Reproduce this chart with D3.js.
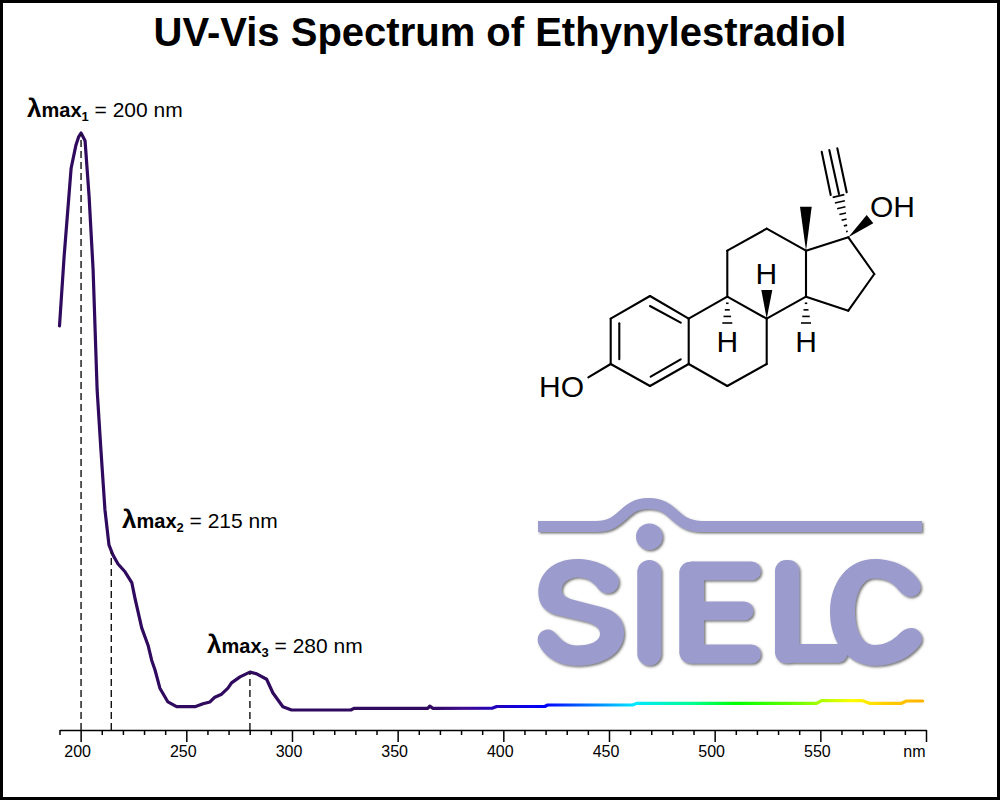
<!DOCTYPE html>
<html><head><meta charset="utf-8">
<script src="https://cdn.jsdelivr.net/npm/d3@7"></script>
<style>html,body{margin:0;padding:0;background:#fff}svg{display:block}text{font-family:"Liberation Sans",Arial,sans-serif;fill:#000}</style>
</head><body><svg id="c" width="1000" height="800"></svg>
<script>
const titleText = "UV-Vis Spectrum of Ethynylestradiol";
const wavelengths = [190,192.2,195.5,197.8,199,200.2,202.1,204,205.9,207.8,209.6,211.5,213.4,215.3,217.7,221,224.2,225.7,228.9,231.9,233.6,235.2,237.5,241.3,245.4,254.1,257.9,261.2,263.5,266.7,269.7,271.4,275.4,280.1,283.3,288,291,295.7,299.8,327.9,329.3,364.3,365.2,366.6,395,396.9,419.6,421,461.2,463.1,548.2,550.6,570,573.3,588.4,590.8,598.4];
const absorbance = [67.7,79.4,94.1,98,99.3,100,98.7,89.4,77.1,57,46.9,36.9,31,29.3,27.8,26.5,24.7,22.1,17.1,14.2,11.7,10.05,7,4.7,3.9,3.9,4.4,4.7,5.5,6,7,7.9,8.9,9.7,9.4,8.5,6.2,3.9,3.35,3.35,3.63,3.63,4,3.63,3.68,3.94,3.94,4.19,4.19,4.46,4.46,4.91,4.91,4.47,4.47,4.86,4.86];
const axisTicks = d3.range(190,601,10);
const tickLabelled = [200,250,300,350,400,450,500,550];
const peakNames = ["1","2","3"];
const peakReadings = [200,215,280];
const peakDrops = [200.2,214.5,280.1];
const peakLabelX = [27,122,207];
const peakLabelY = [117,528,653];
const colorNm = [190,365,382,397,420,440,462,490,510,540,565,580,600];
const colorHex = ["#2f0a5e","#2f0a5e","#3f0a90","#2000c0","#0000ff","#0070ff","#00e8ff","#00ff90","#00ff00","#70ff00","#ffff00","#ffd000","#ffb000"];

const svg = d3.select("#c");
const x = d3.scaleLinear().domain([190,600]).range([59.5,926]);
const y = d3.scaleLinear().domain([0,100]).range([730,133]);

svg.append("rect").attr("width",1000).attr("height",800).attr("fill","#fff");
svg.append("text").attr("x",500).attr("y",46).attr("text-anchor","middle")
  .attr("font-size",40).attr("font-weight","bold").text(titleText);

// gradient
const grad = svg.append("defs").append("linearGradient").attr("id","spec")
  .attr("gradientUnits","userSpaceOnUse").attr("x1",x(190)).attr("x2",x(600)).attr("y1",0).attr("y2",0);
colorNm.forEach((n,i)=>grad.append("stop").attr("offset",(n-190)/410).attr("stop-color",colorHex[i]));

const filt = svg.select("defs").append("filter").attr("id","shadow").attr("filterUnits","userSpaceOnUse")
  .attr("x",520).attr("y",480).attr("width",430).attr("height",210);
filt.append("feDropShadow").attr("dx",1.5).attr("dy",1.5).attr("stdDeviation",0.8).attr("flood-color","#555").attr("flood-opacity",0.8);

// molecule (own pixel geometry, decoration)
const mol = svg.append("g").attr("stroke","#000").attr("stroke-width",2.1).attr("fill","none").attr("stroke-linecap","round");
const bonds = [
 [650,296,610.7,318.7],[610.7,318.7,610.7,364],[610.7,364,650,386],[650,386,688.7,364],[688.7,364,688.7,318.7],[688.7,318.7,650,296],
 [650,306,680.7,322.7],[619.3,323.3,619.3,359.3],[650.7,376.7,680.7,359.3],
 [688.7,318.7,727.3,296.7],[727.3,296.7,766.7,318.7],[766.7,318.7,766.7,364],[766.7,364,727.3,386],[727.3,386,688.7,364],
 [727.3,296.7,727.3,250.7],[727.3,250.7,766.7,228.7],[766.7,228.7,806,250.7],[806,250.7,806,296.7],[806,296.7,766.7,318.7],
 [806,250.7,848.3,237.3],[848.3,237.3,874.3,274],[874.3,274,848.3,310.7],[848.3,310.7,806,296.7],
 [610.7,364,588.3,377.3],
 [821.7,151.7,830.7,195],[829.3,150,839,194],[837.3,148.3,846.7,192.3]];
mol.selectAll("line.b").data(bonds).join("line").attr("class","b")
  .attr("x1",d=>d[0]).attr("y1",d=>d[1]).attr("x2",d=>d[2]).attr("y2",d=>d[3]);
const wedges = [[806,250.7,800,206.7,811.7,206.7],[848.3,237.3,866.7,215,873.3,223.3],[766.7,318.7,761.3,290,772.3,290]];
svg.append("g").selectAll("path").data(wedges).join("path").attr("fill","#000")
  .attr("d",d=>`M${d[0]},${d[1]}L${d[2]},${d[3]}L${d[4]},${d[5]}Z`);
const hashes = [[727.3,296.7,727.3,323,10],[806,296.7,806,323,10],[848.3,237.3,838.5,196,12]];
const hg = svg.append("g").attr("stroke","#000").attr("stroke-width",1.6);
hashes.forEach(h=>{
  const n = h[4]===12?7:4;
  d3.range(1,n+1).forEach(i=>{
    const t=i/n, cx=h[0]+(h[2]-h[0])*t, cy=h[1]+(h[3]-h[1])*t, w=h[4]*t;
    const dx=h[2]-h[0], dy=h[3]-h[1], L=Math.hypot(dx,dy), px=-dy/L, py=dx/L;
    hg.append("line").attr("x1",cx-px*w/2).attr("y1",cy-py*w/2).attr("x2",cx+px*w/2).attr("y2",cy+py*w/2);
  });
});
const atoms = [["HO",561.5,396.7],["OH",892.5,217],["H",766.3,284],["H",727.3,351.7],["H",806,351.7]];
svg.append("g").selectAll("text").data(atoms).join("text").attr("text-anchor","middle").attr("font-size",30)
  .attr("x",d=>d[1]).attr("y",d=>d[2]).text(d=>d[0]);

// logo
const logoC = "#9b9bcd";
const logo = svg.append("g").attr("filter","url(#shadow)").attr("fill","none").attr("stroke",logoC).attr("stroke-linecap","round").attr("stroke-linejoin","round");
logo.append("path").attr("stroke-width",11).attr("stroke-linecap","butt")
  .attr("d","M538,526.5 L596,526.5 C624,526.5 622,503.5 648.5,503.5 C675,503.5 673,526.5 702,526.5 L922,526.5");
logo.append("circle").attr("cx",649.3).attr("cy",536.7).attr("r",13.3).attr("fill",logoC).attr("stroke","none");
const logoFills = [
 "M618,577 C611,566 594,559 576.7,559 C553,559 538.3,574 538.3,592 C538.3,605 545,612 557,615 L585,621.5 C595,624 600,628 600,634 C600,641 590,645.5 577,645.5 C568,645.5 562,641 557,635 C553,631 551,629.5 548,629.5 C541,629.5 535,636 539,645 C545,657 558,665.7 577,665.7 C605,665.7 624,652 624,633 C624,618 615,611 603,607.5 L574,600 C566,598 561.7,595 561.7,590 C561.7,583 569,577.3 578,577.3 C586,577.3 592,581 597,587 C600,591 603,593.3 607.5,593.3 C616,593.3 621,585 618,577 Z",
 "M919.5,582 C912,568 894,559 875,559 C848,559 830,582 830,612 C830,642 848,665.7 875,665.7 C895,665.7 913,656 921,643 C924,636 919,628 911,628 C905,628 901,632 897,636 C890,642 883,645 874,645 C863,645 855,631 855,612 C855,593 863,578.3 874,578.3 C883,578.3 890,581 896,587 C901,593 905,596.7 910,596.7 C918,596.7 923,590 919.5,582 Z"];
logo.selectAll("path.f").data(logoFills).join("path").attr("class","f").attr("fill",logoC).attr("stroke","none").attr("d",d=>d);
const logoRects = [[637.3,560,24,105.5,12],[679.3,561.7,24.7,101.6,11],[775,560,24.3,103.3,11]];
logo.selectAll("rect").data(logoRects).join("rect").attr("fill",logoC).attr("stroke","none")
  .attr("x",d=>d[0]).attr("y",d=>d[1]).attr("width",d=>d[2]).attr("height",d=>d[3]).attr("rx",d=>d[4]);
const logoBars = ["M692,570.9 L751.5,570.9","M692,610.9 L744,610.9","M692,654 L751.5,654","M790,653.3 L838,653.3"];
logo.selectAll("path.s").data(logoBars).join("path").attr("class","s").attr("stroke-width",18.8).attr("d",d=>d);

// spectrum
const pts = wavelengths.map((w,i)=>[w,absorbance[i]]);
svg.append("path").datum(pts).attr("fill","none").attr("stroke","url(#spec)").attr("stroke-width",3.2)
  .attr("stroke-linejoin","round").attr("stroke-linecap","round")
  .attr("d",d3.line().x(d=>x(d[0])).y(d=>y(d[1])));

// drop lines
const valueAt = w=>{const i=d3.bisectLeft(wavelengths,w); if(i===0)return absorbance[0]; const t=(w-wavelengths[i-1])/(wavelengths[i]-wavelengths[i-1]); return absorbance[i-1]+t*(absorbance[i]-absorbance[i-1]);};
svg.append("g").selectAll("line").data(peakDrops).join("line")
  .attr("x1",d=>x(d)).attr("x2",d=>x(d)).attr("y1",y(0)).attr("y2",d=>y(valueAt(d))+1)
  .attr("stroke","#111").attr("stroke-width",1.4).attr("stroke-dasharray","7,4");

// axis
const axis = d3.axisBottom(x).tickValues(axisTicks).tickSizeOuter(0)
  .tickFormat(d=>tickLabelled.includes(d)?d:(d===600?"nm":""));
const ax = svg.append("g").attr("transform","translate(0,730)").call(axis);
ax.select(".domain").attr("stroke","#000").attr("stroke-width",1.5);
ax.selectAll(".tick line").attr("stroke","#000").attr("stroke-width",1.5)
  .attr("y2",d=>(tickLabelled.includes(d)||d===600)?12:5);
ax.selectAll(".tick text").attr("font-size",16).attr("font-family",'"Liberation Sans",Arial,sans-serif').attr("fill","#000")
  .attr("y",15).attr("dy","0.72em").attr("text-anchor",d=>d===600?"end":"middle").attr("x",d=>d===600?-1:-3.5);

// peak labels
peakReadings.forEach((v,i)=>{
  const t = svg.append("text").attr("x",peakLabelX[i]).attr("y",peakLabelY[i]);
  t.append("tspan").attr("font-size",26).attr("font-weight","bold").text("λ");
  t.append("tspan").attr("font-size",20).attr("font-weight","bold").text("max");
  t.append("tspan").attr("font-size",13).attr("font-weight","bold").attr("dy",4).text(peakNames[i]);
  t.append("tspan").attr("font-size",21).attr("dy",-4).text(" = "+v+" nm");
});

// frame
svg.append("rect").attr("x",1.5).attr("y",1.5).attr("width",997).attr("height",797).attr("fill","none").attr("stroke","#000").attr("stroke-width",3);
</script></body></html>
